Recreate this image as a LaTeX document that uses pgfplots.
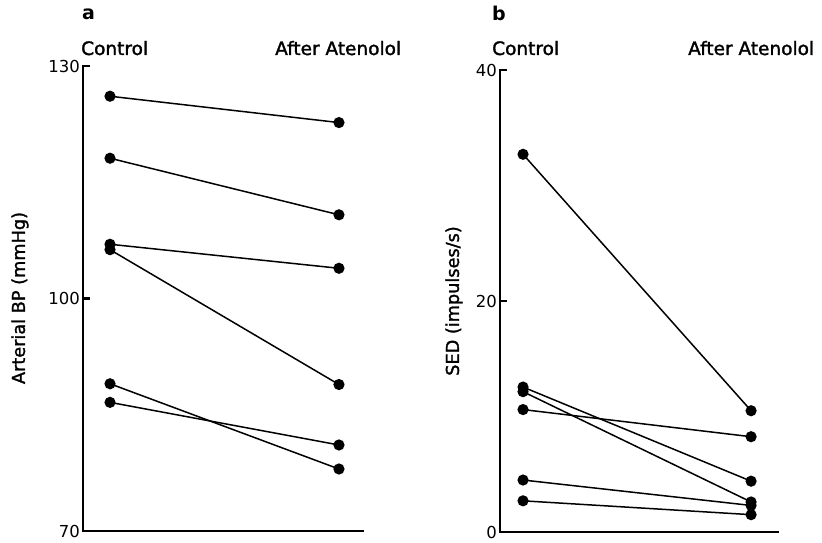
\documentclass[border=0pt]{standalone}
\usepackage{fontspec}
\setmainfont{DejaVu Sans}
\newfontfamily\medfont[FakeBold=1.6]{DejaVu Sans}
\usepackage{pgfplots}
\pgfplotsset{compat=1.18}
\begin{document}
\begin{tikzpicture}
\useasboundingbox (0pt,0pt) rectangle (822pt,542pt);
\pgfplotsset{
 panel/.style={
  scale only axis, anchor=south west,
  axis lines*=left,
  axis line style={line width=2.6pt, black, line cap=rect},
  xtick=\empty, tick align=inside, major tick length=7pt,
  tick style={line width=2.6pt, black},
  yticklabel style={font=\fontsize{16.5}{18}\selectfont, inner sep=3pt},
  /pgf/number format/assume math mode=true,
  clip=false,
 },
 ser/.style={black, line width=1.5pt, mark=*, mark size=4.8pt, mark options={solid}},
}
% Panel a
\begin{axis}[panel, at={(83pt,11pt)}, width=280pt, height=465pt,
  xmin=-0.118, xmax=1.105, ymin=70, ymax=130, ytick={70,100,130}]
\addplot[ser] coordinates {(0,126.1) (1,122.7)};
\addplot[ser] coordinates {(0,118.1) (1,110.8)};
\addplot[ser] coordinates {(0,107.0) (1,103.9)};
\addplot[ser] coordinates {(0,106.3) (1,88.9)};
\addplot[ser] coordinates {(0,89.0) (1,78.0)};
\addplot[ser] coordinates {(0,86.6) (1,81.1)};
\end{axis}
% Panel b
\begin{axis}[panel, at={(500pt,10pt)}, width=278pt, height=462pt,
  xmin=-0.101, xmax=1.118, ymin=0, ymax=40, ytick={0,20,40}]
\addplot[ser] coordinates {(0,32.7) (1,10.5)};
\addplot[ser] coordinates {(0,12.55) (1,4.4)};
\addplot[ser] coordinates {(0,12.15) (1,2.6)};
\addplot[ser] coordinates {(0,10.6) (1,8.25)};
\addplot[ser] coordinates {(0,4.5) (1,2.3)};
\addplot[ser] coordinates {(0,2.7) (1,1.5)};
\end{axis}
% headers
\node[anchor=base west, inner sep=0pt, font=\bfseries\fontsize{19}{20}\selectfont] at (82pt,522pt) {a};
\node[anchor=base west, inner sep=0pt, font=\medfont\fontsize{18.5}{20}\selectfont] at (81pt,487pt) {Control};
\node[anchor=base west, inner sep=0pt, font=\medfont\fontsize{18.5}{20}\selectfont] at (275pt,487pt) {After Atenolol};
\node[anchor=base west, inner sep=0pt, font=\bfseries\fontsize{19}{20}\selectfont] at (492pt,521pt) {b};
\node[anchor=base west, inner sep=0pt, font=\medfont\fontsize{18.5}{20}\selectfont] at (492pt,487pt) {Control};
\node[anchor=base west, inner sep=0pt, font=\medfont\fontsize{18.5}{20}\selectfont] at (688pt,487pt) {After Atenolol};
% y labels
\node[rotate=90, inner sep=0pt, font=\medfont\fontsize{17.7}{19}\selectfont] at (20pt,244pt) {Arterial BP (mmHg)};
\node[rotate=90, inner sep=0pt, font=\medfont\fontsize{17.7}{19}\selectfont] at (454pt,241pt) {SED (impulses/s)};
\end{tikzpicture}
\end{document}
